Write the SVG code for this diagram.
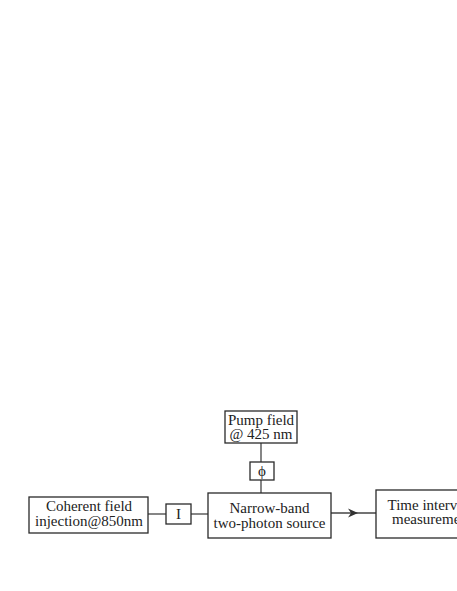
<svg xmlns="http://www.w3.org/2000/svg" width="457" height="591" viewBox="0 0 457 591">
<style>
rect{fill:#fff;stroke:#2a2a2a;stroke-width:1.3}
text{font-family:"Liberation Serif","Times New Roman",serif;font-size:15px;fill:#222;text-anchor:middle}
.s{text-anchor:start}
.c{stroke:#444;stroke-width:1.3;fill:none}
</style>
<rect x="0" y="0" width="457" height="591" style="stroke:none"/>
<g id="connectors">
<line class="c" x1="261" y1="443" x2="261" y2="462"/>
<line class="c" x1="261" y1="480" x2="261" y2="493"/>
<line class="c" x1="148" y1="514" x2="166" y2="514"/>
<line class="c" x1="191" y1="514" x2="208" y2="514"/>
<line class="c" x1="331" y1="513" x2="376" y2="513"/>
<path d="M358,513 L348,508.5 L351,513 L348,517.5 Z" fill="#333"/>
</g>
<g id="pump">
<rect x="225" y="411" width="72" height="32"/>
<text x="261" y="425">Pump field</text>
<text x="261" y="439">@ 425 nm</text>
</g>
<g id="phi">
<rect x="250" y="462" width="24" height="18"/>
<text x="262" y="476">ϕ</text>
</g>
<g id="coherent">
<rect x="29" y="497" width="119" height="36"/>
<text x="89" y="511">Coherent field</text>
<text x="89" y="526">injection@850nm</text>
</g>
<g id="intensity">
<rect x="166" y="504" width="25" height="20"/>
<text x="178.5" y="519">I</text>
</g>
<g id="source">
<rect x="208" y="493" width="123" height="45"/>
<text x="269.5" y="513">Narrow-band</text>
<text x="269.5" y="528">two-photon source</text>
</g>
<g id="time">
<rect x="376" y="490" width="106" height="48"/>
<text class="s" x="387.5" y="510">Time interval</text>
<text class="s" x="392" y="524">measurement</text>
</g>
</svg>
